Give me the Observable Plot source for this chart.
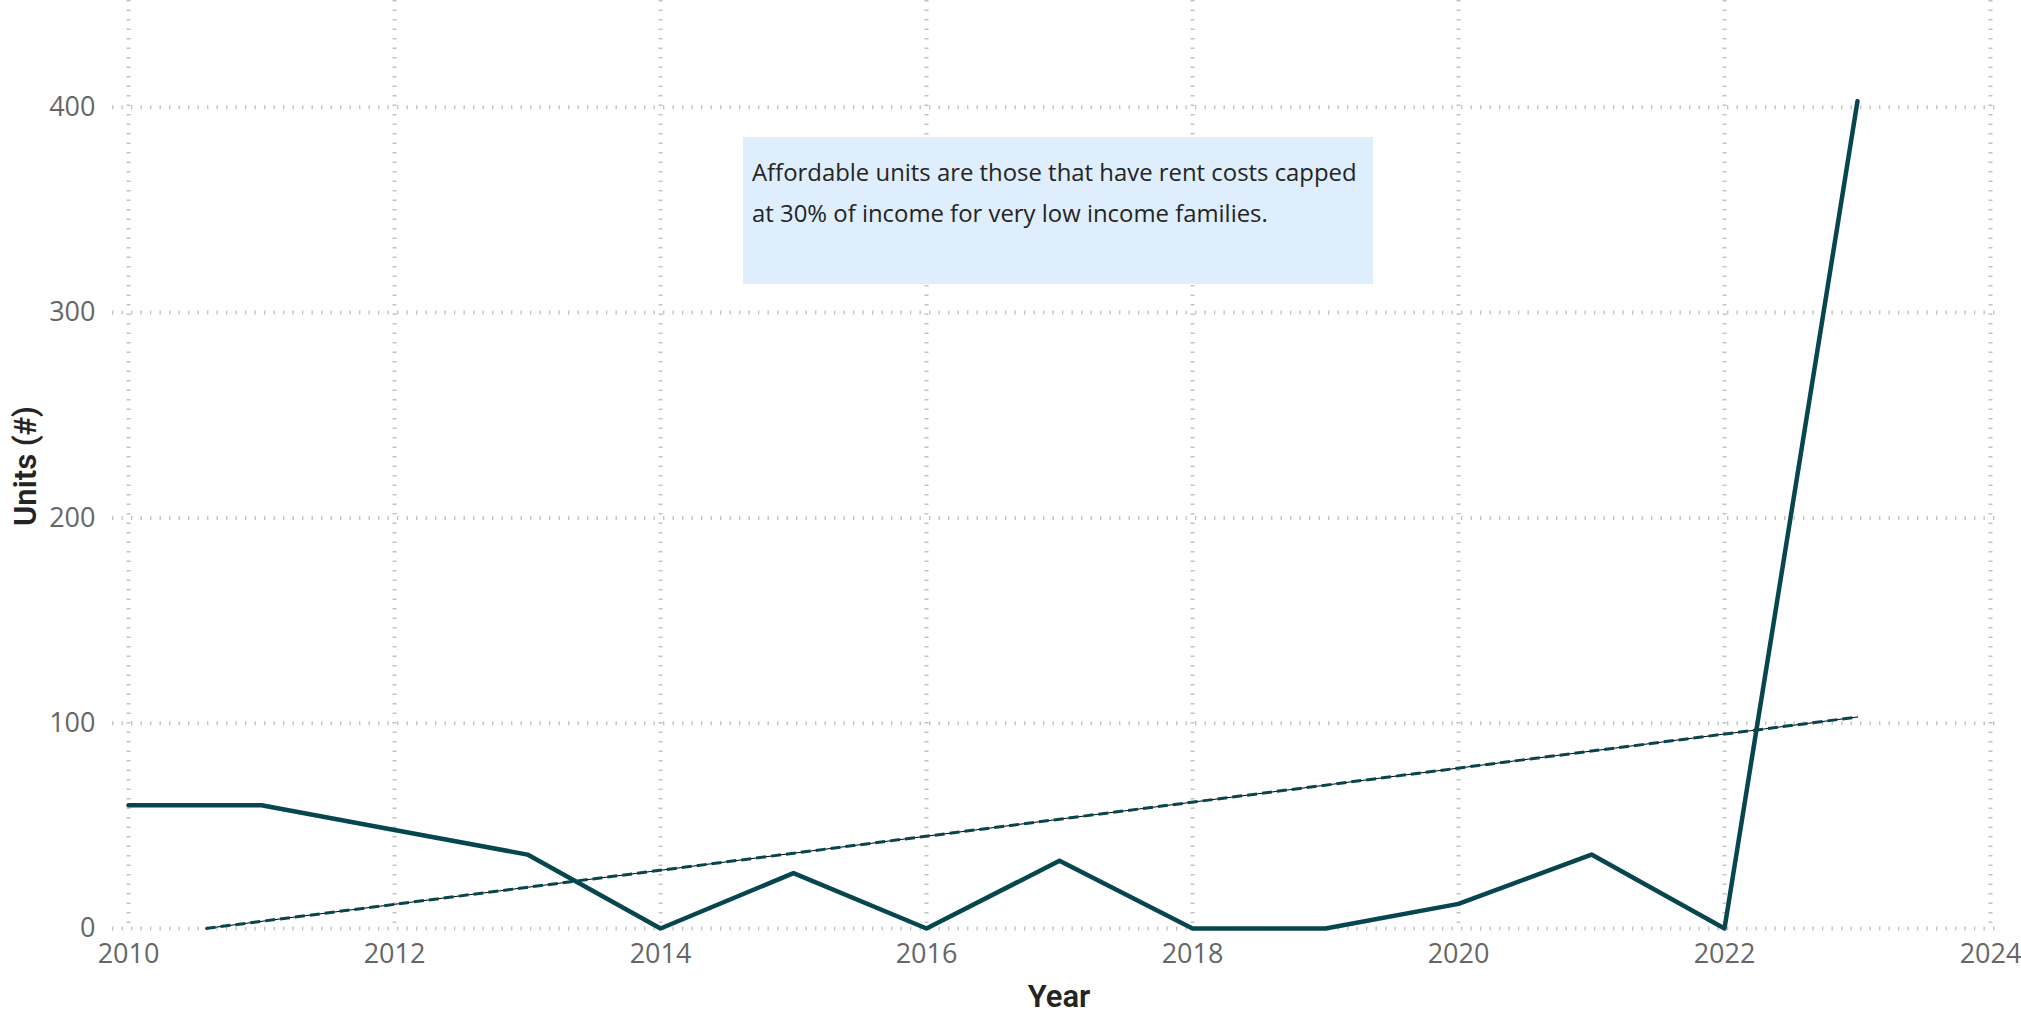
<!DOCTYPE html>
<html>
<head>
<meta charset="utf-8">
<script src="https://cdn.jsdelivr.net/npm/d3@7"></script>
<script src="https://cdn.jsdelivr.net/npm/@observablehq/plot@0.6"></script>
<style>
  html, body { margin: 0; padding: 0; background: #fff; }
  #wrap { position: relative; width: 2021px; height: 1015px; overflow: hidden; }
  #wrap svg { position: absolute; left: 0; top: 0; }
  .axis-title { position: absolute; font-family: Roboto, "Noto Sans", sans-serif; font-weight: 600; font-size: 31px; line-height: 31px; color: #252423; white-space: nowrap; }
  #note { position: absolute; left: 743px; top: 137px; width: 630px; height: 147px; background: #DEEEFD; box-sizing: border-box; padding: 14px 0 0 9px; font-family: "Open Sans", "Noto Sans", sans-serif; font-size: 23.9px; line-height: 41px; color: #252423; white-space: nowrap; }
</style>
</head>
<body>
<div id="wrap"></div>
<script>
// Data
const years = [2010, 2011, 2012, 2013, 2014, 2015, 2016, 2017, 2018, 2019, 2020, 2021, 2022, 2023];
const units = [60, 60, 48, 36, 0, 27, 0, 33, 0, 0, 12, 36, 0, 403];
const trendYears = [2010.58, 2023];
const trendUnits = [0, 103];
const xTicks = [2010, 2012, 2014, 2016, 2018, 2020, 2022, 2024];
const yTicks = [0, 100, 200, 300, 400];
const noteLines = ["Affordable units are those that have rent costs capped", "at 30% of income for very low income families."];
const xTitle = "Year";
const yTitle = "Units (#)";

const teal = "#07464F";
const gridStyle = {stroke: "#c4c4c4", strokeOpacity: 1, strokeWidth: 4, strokeDasharray: "1.4,8.1"};

const main = years.map((y, i) => ({year: y, value: units[i]}));
const trend = trendYears.map((y, i) => ({year: y, value: trendUnits[i]}));

const chart = Plot.plot({
  width: 2021,
  height: 1015,
  marginLeft: 112,
  marginRight: 19,
  marginTop: 0,
  marginBottom: 87,
  insetLeft: 16,
  insetRight: 12,
  x: {domain: [2010, 2024], label: null},
  y: {domain: [0, 452], label: null},
  style: {fontFamily: "'Open Sans', 'Noto Sans', sans-serif", fontSize: "27px", color: "#666666", background: "white"},
  marks: [
    Plot.gridX(xTicks, gridStyle),
    Plot.gridY(yTicks, gridStyle),
    Plot.axisX(xTicks, {tickSize: 0, tickPadding: 15, tickFormat: d => String(d), label: null}),
    Plot.axisY(yTicks, {tickSize: 0, tickPadding: 17, label: null}),
    Plot.line(trend, {x: "year", y: "value", stroke: "#000", strokeWidth: 1}),
    Plot.line(trend, {x: "year", y: "value", stroke: teal, strokeWidth: 3, strokeDasharray: "10,5", strokeLinecap: "butt"}),
    Plot.line(main, {x: "year", y: "value", stroke: teal, strokeWidth: 4.5})
  ]
});

const wrap = document.getElementById("wrap");
wrap.appendChild(chart);

const note = document.createElement("div");
note.id = "note";
note.innerHTML = noteLines.join("<br>");
wrap.appendChild(note);

const xt = document.createElement("div");
xt.className = "axis-title";
xt.textContent = xTitle;
xt.style.left = "1059px";
xt.style.top = "981px";
xt.style.transform = "translateX(-50%)";
wrap.appendChild(xt);

const yt = document.createElement("div");
yt.className = "axis-title";
yt.textContent = yTitle;
yt.style.left = "25px";
yt.style.top = "466px";
yt.style.transform = "translate(-50%, -50%) rotate(-90deg)";
wrap.appendChild(yt);
</script>
</body>
</html>
